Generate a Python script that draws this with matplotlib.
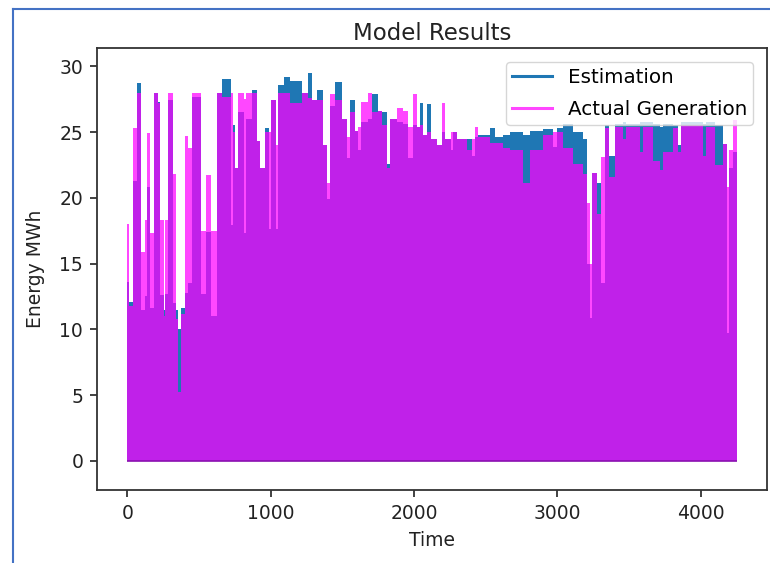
import numpy as np
import matplotlib
matplotlib.use('Agg')
import matplotlib.pyplot as plt
from matplotlib.lines import Line2D

# segment start times (hours); last segment ends at t_end
t_start = [0, 12, 40, 70, 92, 125, 140, 160, 188, 212, 230, 252, 262, 280, 315, 340, 355, 375,
           400, 425, 452, 512, 550, 585, 622, 660, 720, 736, 752, 770, 815, 825, 870, 905, 925,
           960, 990, 1000, 1035, 1050, 1090, 1135, 1220, 1260, 1290, 1325, 1365, 1395, 1415,
           1450, 1500, 1530, 1555, 1590, 1610, 1630, 1680, 1705, 1750, 1775, 1810, 1835, 1880,
           1925, 1960, 1990, 2020, 2040, 2065, 2090, 2120, 2160, 2195, 2215, 2255, 2270, 2300,
           2370, 2405, 2425, 2445, 2530, 2565, 2620, 2670, 2760, 2810, 2900, 2970, 2995, 3040,
           3110, 3180, 3210, 3228, 3240, 3275, 3305, 3330, 3360, 3400, 3455, 3480, 3575, 3595,
           3665, 3715, 3740, 3810, 3840, 3865, 4015, 4040, 4100, 4155, 4180, 4200, 4225]
t_end = 4250

# daily peak of the estimated energy (MWh)
estimation = [13.6, 12.1, 21.3, 28.7, 11.5, 12.5, 20.8, 11.6, 28.0, 27.3, 12.6, 11.5, 12.7, 27.4,
              12.0, 11.5, 10.0, 11.6, 12.8, 13.5, 27.7, 12.7, 17.4, 11.0, 28.0, 29.0, 17.9, 25.5,
              22.3, 26.5, 17.3, 26.0, 28.2, 24.3, 22.3, 25.3, 17.6, 27.4, 17.6, 28.6, 29.2, 28.9,
              28.0, 29.5, 27.4, 28.2, 24.0, 19.9, 27.0, 28.8, 26.0, 23.0, 27.4, 25.1, 23.6, 25.8,
              26.0, 27.9, 26.6, 26.5, 22.6, 26.0, 25.8, 25.6, 23.0, 25.5, 25.4, 27.2, 24.8, 27.1,
              24.5, 24.0, 25.0, 24.5, 23.6, 25.0, 24.5, 24.5, 23.2, 24.6, 24.8, 25.3, 24.6, 24.8,
              25.0, 24.8, 25.1, 25.2, 23.9, 25.3, 25.6, 25.0, 24.5, 15.0, 10.9, 21.9, 21.1, 13.5,
              25.5, 23.2, 25.6, 25.8, 25.6, 25.8, 25.8, 25.6, 25.4, 25.6, 25.5, 24.0, 25.8, 25.6,
              25.8, 25.5, 24.1, 9.7, 22.3, 23.5]

# daily peak of the actual generation (MWh)
actual = [18.0, 11.8, 25.3, 28.0, 15.9, 18.3, 24.9, 17.3, 28.0, 27.2, 18.3, 11.0, 18.3, 28.0,
          21.8, 10.8, 5.2, 11.2, 24.7, 23.8, 28.0, 17.5, 21.7, 17.5, 28.0, 27.7, 28.0, 25.0,
          22.3, 28.0, 27.5, 28.0, 28.0, 24.3, 22.3, 25.0, 25.0, 27.4, 24.0, 28.0, 28.0, 27.2,
          28.0, 27.6, 27.4, 27.4, 24.0, 21.1, 27.9, 27.4, 26.0, 24.6, 26.5, 25.1, 25.4, 27.3,
          28.0, 26.5, 26.6, 25.5, 22.3, 26.0, 26.8, 26.6, 25.4, 27.9, 25.4, 25.5, 24.8, 25.0,
          24.5, 24.0, 27.2, 24.5, 25.0, 25.0, 24.5, 23.6, 24.5, 25.4, 24.6, 24.2, 24.2, 23.8,
          23.6, 21.1, 23.6, 24.8, 25.0, 25.0, 23.8, 22.6, 21.8, 19.6, 15.0, 21.9, 18.8, 23.1,
          25.3, 21.6, 25.4, 24.5, 25.4, 23.5, 25.4, 22.8, 22.1, 23.5, 25.3, 23.5, 25.5, 23.2,
          25.4, 22.5, 24.1, 20.8, 23.6, 25.9]

edges = np.array(t_start + [t_end])

plt.rcParams['font.size'] = 13.5
plt.rcParams['axes.linewidth'] = 1.3
plt.rcParams['axes.edgecolor'] = '#333333'
for axis in ['xtick', 'ytick']:
    plt.rcParams[axis + '.major.size'] = 5
    plt.rcParams[axis + '.major.width'] = 1.3
    plt.rcParams[axis + '.major.pad'] = 5
    plt.rcParams[axis + '.color'] = '#333333'
    plt.rcParams[axis + '.labelcolor'] = '#222222'

fig = plt.figure(figsize=(7.7, 5.63), dpi=100)
ax = fig.add_axes([0.126, 0.130, 0.870, 0.785])

ax.stairs(estimation, edges, fill=True, color='#1f77b4', baseline=0)
ax.stairs(actual, edges, fill=True, color='magenta', alpha=0.72, baseline=0)
ax.hlines(0, edges[0], edges[-1], color='#8a10b0', linewidth=1.2)

ax.set_xlim(-212, 4462)
ax.set_ylim(-2.2, 31.4)
ax.set_xticks([0, 1000, 2000, 3000, 4000])
ax.set_yticks([0, 5, 10, 15, 20, 25, 30])
ax.set_title('Model Results', fontsize=16.5, color='#222222')
ax.set_xlabel('Time', color='#222222', labelpad=6)
ax.set_ylabel('Energy MWh', color='#222222', labelpad=10)

handles = [Line2D([], [], color='#1f77b4', linewidth=2.2),
           Line2D([], [], color='magenta', alpha=0.72, linewidth=2.2)]
ax.legend(handles, ['Estimation', 'Actual Generation'], loc='upper right', fontsize=14.3,
          borderaxespad=0.7, labelspacing=0.65, borderpad=0.3)

# blue frame of the screenshot
fig.add_artist(Line2D([13 / 770, 13 / 770], [0, 1 - 9 / 563], color='#4472c4', linewidth=1.5))
fig.add_artist(Line2D([13 / 770, 1], [1 - 9 / 563, 1 - 9 / 563], color='#4472c4', linewidth=1.5))

fig.savefig('out.png', dpi=100)
